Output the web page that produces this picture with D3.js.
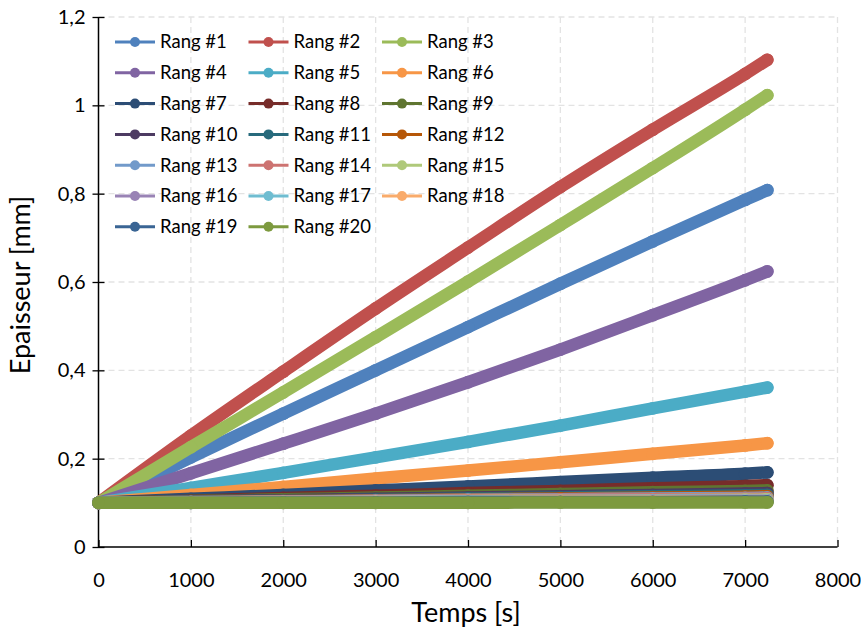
<!DOCTYPE html>
<html><head><meta charset="utf-8">
<script src="https://cdn.jsdelivr.net/npm/d3@7"></script>
<style>body{margin:0;background:#fff}svg{display:block}text{font-family:Lato,"Noto Sans",sans-serif;fill:#000}</style>
</head><body><svg id="c" width="861" height="632"></svg>
<script>
// time samples [s]
const times = [0, 1000, 2000, 3000, 4000, 5000, 6000, 7000, 7240];
const seriesNames = ["Rang #1","Rang #2","Rang #3","Rang #4","Rang #5","Rang #6","Rang #7","Rang #8","Rang #9","Rang #10",
  "Rang #11","Rang #12","Rang #13","Rang #14","Rang #15","Rang #16","Rang #17","Rang #18","Rang #19","Rang #20"];
const r1  = [0.100, 0.203, 0.302, 0.400, 0.498, 0.596, 0.692, 0.786, 0.808];
const r2  = [0.100, 0.252, 0.397, 0.540, 0.678, 0.815, 0.945, 1.071, 1.103];
const r3  = [0.100, 0.226, 0.350, 0.475, 0.601, 0.729, 0.858, 0.990, 1.023];
const r4  = [0.100, 0.167, 0.234, 0.302, 0.373, 0.447, 0.525, 0.604, 0.624];
const r5  = [0.100, 0.134, 0.168, 0.203, 0.238, 0.275, 0.314, 0.352, 0.361];
const r6  = [0.100, 0.118, 0.136, 0.155, 0.173, 0.192, 0.211, 0.230, 0.235];
const r7  = [0.100, 0.109, 0.118, 0.128, 0.137, 0.147, 0.157, 0.166, 0.169];
const r8  = [0.100, 0.105, 0.111, 0.116, 0.122, 0.127, 0.133, 0.138, 0.140];
const r9  = [0.100, 0.104, 0.108, 0.112, 0.116, 0.120, 0.124, 0.127, 0.128];
const r10 = [0.100, 0.103, 0.106, 0.109, 0.112, 0.115, 0.118, 0.121, 0.122];
const r11 = [0.100, 0.102, 0.105, 0.107, 0.110, 0.112, 0.115, 0.117, 0.118];
const r12 = [0.100, 0.102, 0.104, 0.106, 0.108, 0.110, 0.112, 0.114, 0.115];
const r13 = [0.100, 0.102, 0.103, 0.105, 0.107, 0.108, 0.110, 0.111, 0.112];
const r14 = [0.100, 0.101, 0.103, 0.104, 0.106, 0.107, 0.108, 0.109, 0.110];
const r15 = [0.100, 0.101, 0.102, 0.103, 0.104, 0.105, 0.106, 0.107, 0.108];
const r16 = [0.100, 0.101, 0.102, 0.103, 0.103, 0.104, 0.105, 0.106, 0.106];
const r17 = [0.100, 0.101, 0.101, 0.102, 0.103, 0.103, 0.104, 0.105, 0.105];
const r18 = [0.100, 0.101, 0.101, 0.102, 0.102, 0.103, 0.103, 0.104, 0.104];
const r19 = [0.100, 0.100, 0.101, 0.101, 0.102, 0.102, 0.102, 0.103, 0.103];
const r20 = [0.100, 0.100, 0.100, 0.100, 0.100, 0.101, 0.101, 0.101, 0.101];
const values = [r1,r2,r3,r4,r5,r6,r7,r8,r9,r10,r11,r12,r13,r14,r15,r16,r17,r18,r19,r20];
const colors = ["#4F81BD","#C0504D","#9BBB59","#8064A2","#4BACC6","#F79646","#2C4D75","#772C2A","#5F7530","#4D3B62",
  "#276A7C","#B65708","#729ACA","#CD7371","#AFC97A","#9983B5","#6FBDD1","#F9AB6B","#3A6594","#7D9A3F"];
const xTicks = [0,1000,2000,3000,4000,5000,6000,7000,8000];
const yTicks = [0,0.2,0.4,0.6,0.8,1.0,1.2];
const xTitle = "Temps [s]", yTitle = "Epaisseur [mm]";

const svg = d3.select("#c");
const L = 98.5, R = 837.5, T = 17, B = 547;
const x = d3.scaleLinear().domain([0,8000]).range([L,R]);
const y = d3.scaleLinear().domain([0,1.2]).range([B,T]);
const fmt = v => String(+v.toFixed(1)).replace(".", ",");

// gridlines
const g = svg.append("g");
g.selectAll("line.h").data(yTicks.filter(v=>v>0)).join("line")
  .attr("x1",L).attr("x2",R).attr("y1",d=>y(d)).attr("y2",d=>y(d))
  .attr("stroke","#e3e3e3").attr("stroke-width",1.3).attr("stroke-dasharray","6,4");
g.selectAll("line.v").data(xTicks.filter(v=>v>0)).join("line")
  .attr("y1",T).attr("y2",B).attr("x1",d=>x(d)).attr("x2",d=>x(d))
  .attr("stroke","#e3e3e3").attr("stroke-width",1.3).attr("stroke-dasharray","6,4");

// axes
const xa = svg.append("g").attr("transform",`translate(0,${B})`)
  .call(d3.axisBottom(x).tickValues(xTicks).tickSize(-7).tickPadding(38).tickFormat(d3.format("d")));
const ya = svg.append("g").attr("transform",`translate(${L},0)`)
  .call(d3.axisLeft(y).tickValues(yTicks).tickSize(6).tickPadding(7).tickFormat(fmt));
ya.selectAll(".tick line").attr("x2",-6).attr("x1",6);
[xa,ya].forEach(a=>{
  a.select(".domain").attr("stroke","#000").attr("stroke-width",1.5);
  a.selectAll(".tick line").attr("stroke","#000").attr("stroke-width",1.3);
  a.selectAll("text").style("font-family","Lato").style("font-size","20px").attr("fill","#000");
});
xa.select(".domain").attr("d",`M${L},0H${R}`);
ya.select(".domain").attr("d",`M0,${B}V${T}`);
xa.selectAll("text").attr("dy","0.1em");

// series
const line = d3.line().x((d,i)=>x(times[i])).y(d=>y(d)).curve(d3.curveMonotoneX);
const sg = svg.append("g");
values.forEach((vals,k)=>{
  const s = sg.append("g");
  s.append("path").attr("d",line(vals)).attr("fill","none").attr("stroke",colors[k])
    .attr("stroke-width",12.5).attr("stroke-linecap","round").attr("stroke-linejoin","round");
  s.selectAll("circle").data(vals).join("circle")
    .attr("cx",(d,i)=>x(times[i])).attr("cy",d=>y(d)).attr("r",6.4).attr("fill",colors[k]);
});

// legend
const lg = svg.append("g");
seriesNames.forEach((n,k)=>{
  const col = k%3, row = Math.floor(k/3);
  const lx = 115 + col*133.5, ly = 42 + row*30.8;
  const it = lg.append("g").attr("transform",`translate(${lx},${ly})`);
  it.append("line").attr("x1",0).attr("x2",40).attr("stroke",colors[k]).attr("stroke-width",3);
  it.append("circle").attr("cx",20).attr("r",5).attr("fill",colors[k]);
  it.append("text").attr("x",45).attr("dy","0.35em").style("font-size","18.5px").text(n);
});

// titles
svg.append("text").attr("x",(L+R)/2-2).attr("y",622).attr("text-anchor","middle")
  .style("font-size","27px").text(xTitle);
svg.append("text").attr("transform",`translate(30,${(T+B)/2+3}) rotate(-90)`).attr("text-anchor","middle")
  .style("font-size","27px").text(yTitle);
</script></body></html>
